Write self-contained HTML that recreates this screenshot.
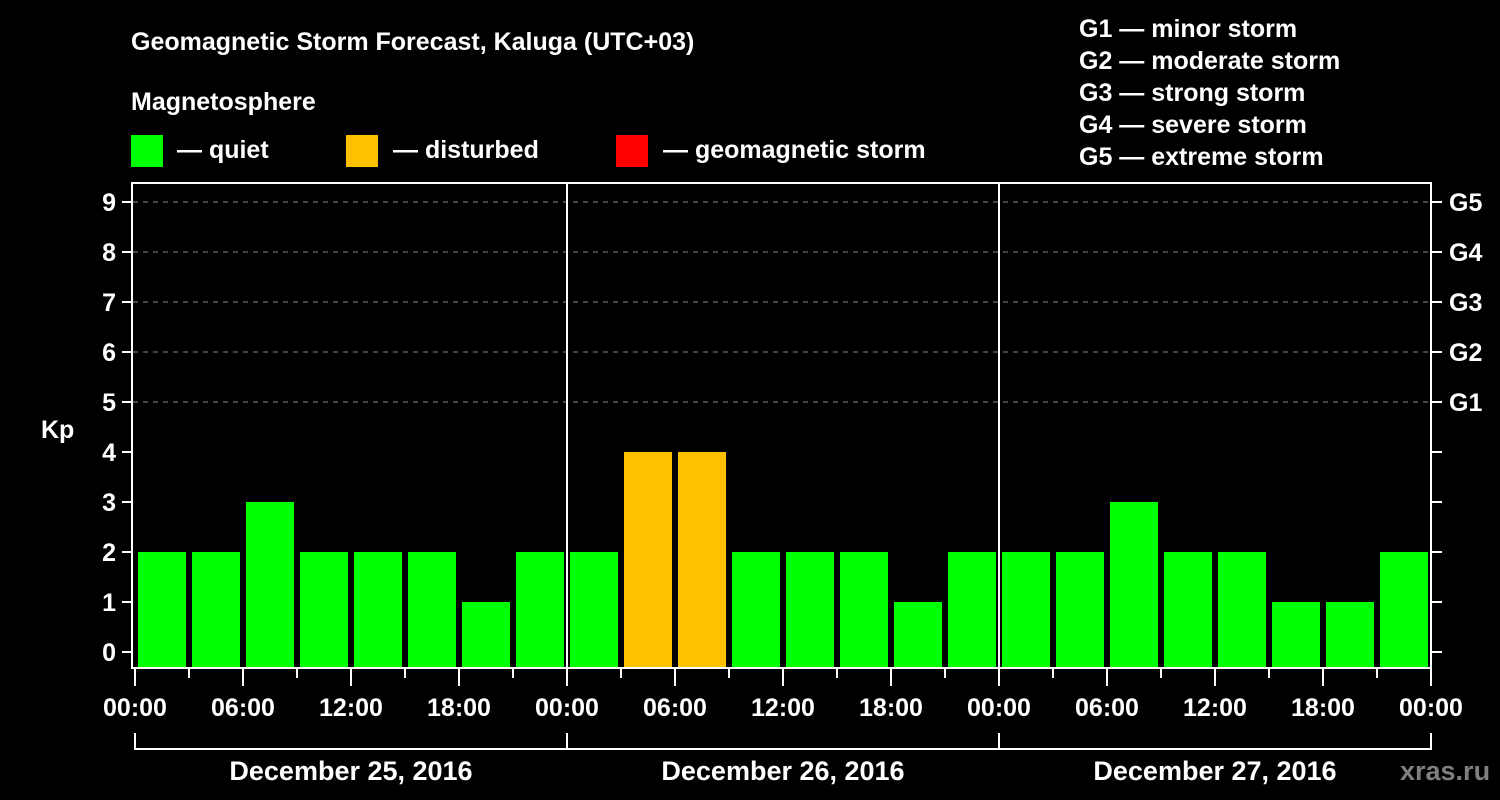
<!DOCTYPE html>
<html><head><meta charset="utf-8"><style>
html,body{margin:0;padding:0;background:#000;}
svg{display:block;font-family:"Liberation Sans",Arial,sans-serif;font-weight:bold;}
</style></head><body>
<svg id="chart" width="1500" height="800" viewBox="0 0 1500 800">
<rect width="1500" height="800" fill="#000"/>
<text x="131" y="50" fill="#fff" font-size="25">Geomagnetic Storm Forecast, Kaluga (UTC+03)</text>
<text x="131" y="110" fill="#fff" font-size="25">Magnetosphere</text>
<g><rect x="131" y="135" width="32" height="32" fill="#00ff00"/><text x="177" y="158" fill="#fff" font-size="25">— quiet</text></g>
<g><rect x="346" y="135" width="32" height="32" fill="#ffc000"/><text x="393" y="158" fill="#fff" font-size="25">— disturbed</text></g>
<g><rect x="616" y="135" width="32" height="32" fill="#ff0000"/><text x="663" y="158" fill="#fff" font-size="25">— geomagnetic storm</text></g>
<g fill="#fff" font-size="25">
<text x="1079" y="37">G1 — minor storm</text>
<text x="1079" y="69">G2 — moderate storm</text>
<text x="1079" y="101">G3 — strong storm</text>
<text x="1079" y="133">G4 — severe storm</text>
<text x="1079" y="165">G5 — extreme storm</text>
</g>
<text x="41" y="438" fill="#fff" font-size="25">Kp</text>
<text x="1400" y="780" fill="#7f7f7f" font-size="27">xras.ru</text>
<g id="grid"></g><g id="bars"></g><g id="axes"></g>
</svg>
<script>
const kpValues = [2,2,3,2,2,2,1,2, 2,4,4,2,2,2,1,2, 2,2,3,2,2,1,1,2];
const barLevels = ["quiet","quiet","quiet","quiet","quiet","quiet","quiet","quiet","quiet","disturbed","disturbed","quiet","quiet","quiet","quiet","quiet","quiet","quiet","quiet","quiet","quiet","quiet","quiet","quiet"];
const yTicks = [0,1,2,3,4,5,6,7,8,9];
const gLabels = ["G1","G2","G3","G4","G5"];
const gLevels = [5,6,7,8,9];
const timeLabels = ["00:00","06:00","12:00","18:00","00:00","06:00","12:00","18:00","00:00","06:00","12:00","18:00","00:00"];
const dayLabels = ["December 25, 2016","December 26, 2016","December 27, 2016"];

const NS="http://www.w3.org/2000/svg";
const X0=135, STEP=54, BW=48, LEFT=133, RIGHT=1431, TOP=183, BOT=668;
const y = v => 652 - v*50;
const x = i => X0 + i*STEP;
const colors = {quiet:"#00ff00", disturbed:"#ffc000", storm:"#ff0000"};
function mk(tag, attrs, parent){const e=document.createElementNS(NS,tag);for(const k in attrs)e.setAttribute(k,attrs[k]);parent.appendChild(e);return e;}
const grid=document.getElementById('grid'), bars=document.getElementById('bars'), axes=document.getElementById('axes');

gLevels.forEach(v=>{
  const l=mk('line',{x1:LEFT,x2:RIGHT,y1:y(v),y2:y(v),stroke:"#888","stroke-width":1,"stroke-dasharray":"5,5"},grid);
  
  
});
kpValues.forEach((v,i)=>{
  const r=mk('rect',{x:x(i)+3,y:y(v),width:BW,height:BOT-y(v),fill:colors[barLevels[i]]},bars);
  
  
});
// frame
const fr=mk('rect',{x:LEFT-1,y:TOP,width:RIGHT-LEFT+1,height:BOT-TOP,fill:"none",stroke:"#fff","stroke-width":2},axes);


[1,2].forEach(d=>{
  const l=mk('line',{x1:x(d*8),x2:x(d*8),y1:TOP,y2:BOT,stroke:"#fff","stroke-width":2},axes);
  
  
});
yTicks.forEach(v=>{
  mk('line',{x1:122,x2:LEFT,y1:y(v),y2:y(v),stroke:"#fff","stroke-width":2},axes);
  mk('line',{x1:RIGHT,x2:1442,y1:y(v),y2:y(v),stroke:"#fff","stroke-width":2},axes);
  const t=mk('text',{x:116,y:y(v)+9,"text-anchor":"end",fill:"#fff","font-size":25},axes);
  t.textContent=v;
  
  
});
gLabels.forEach((g,i)=>{
  const t=mk('text',{x:1449,y:y(gLevels[i])+9,fill:"#fff","font-size":25},axes);
  t.textContent=g;
  
  
});
for(let i=0;i<=24;i++){
  const major=i%2===0;
  mk('line',{x1:x(i),x2:x(i),y1:BOT,y2:major?686:678,stroke:"#fff","stroke-width":2},axes);
}
timeLabels.forEach((s,i)=>{
  const t=mk('text',{x:x(i*2),y:716,"text-anchor":"middle",fill:"#fff","font-size":25},axes);
  t.textContent=s;
  
  
});
mk('line',{x1:x(0),x2:x(24),y1:749,y2:749,stroke:"#fff","stroke-width":2},axes);
for(let d=0;d<=3;d++) mk('line',{x1:x(d*8),x2:x(d*8),y1:733,y2:750,stroke:"#fff","stroke-width":2},axes);
dayLabels.forEach((s,d)=>{
  const t=mk('text',{x:x(d*8+4),y:780,"text-anchor":"middle",fill:"#fff","font-size":27},axes);
  t.textContent=s;
  
  
});
</script>
</body></html>
